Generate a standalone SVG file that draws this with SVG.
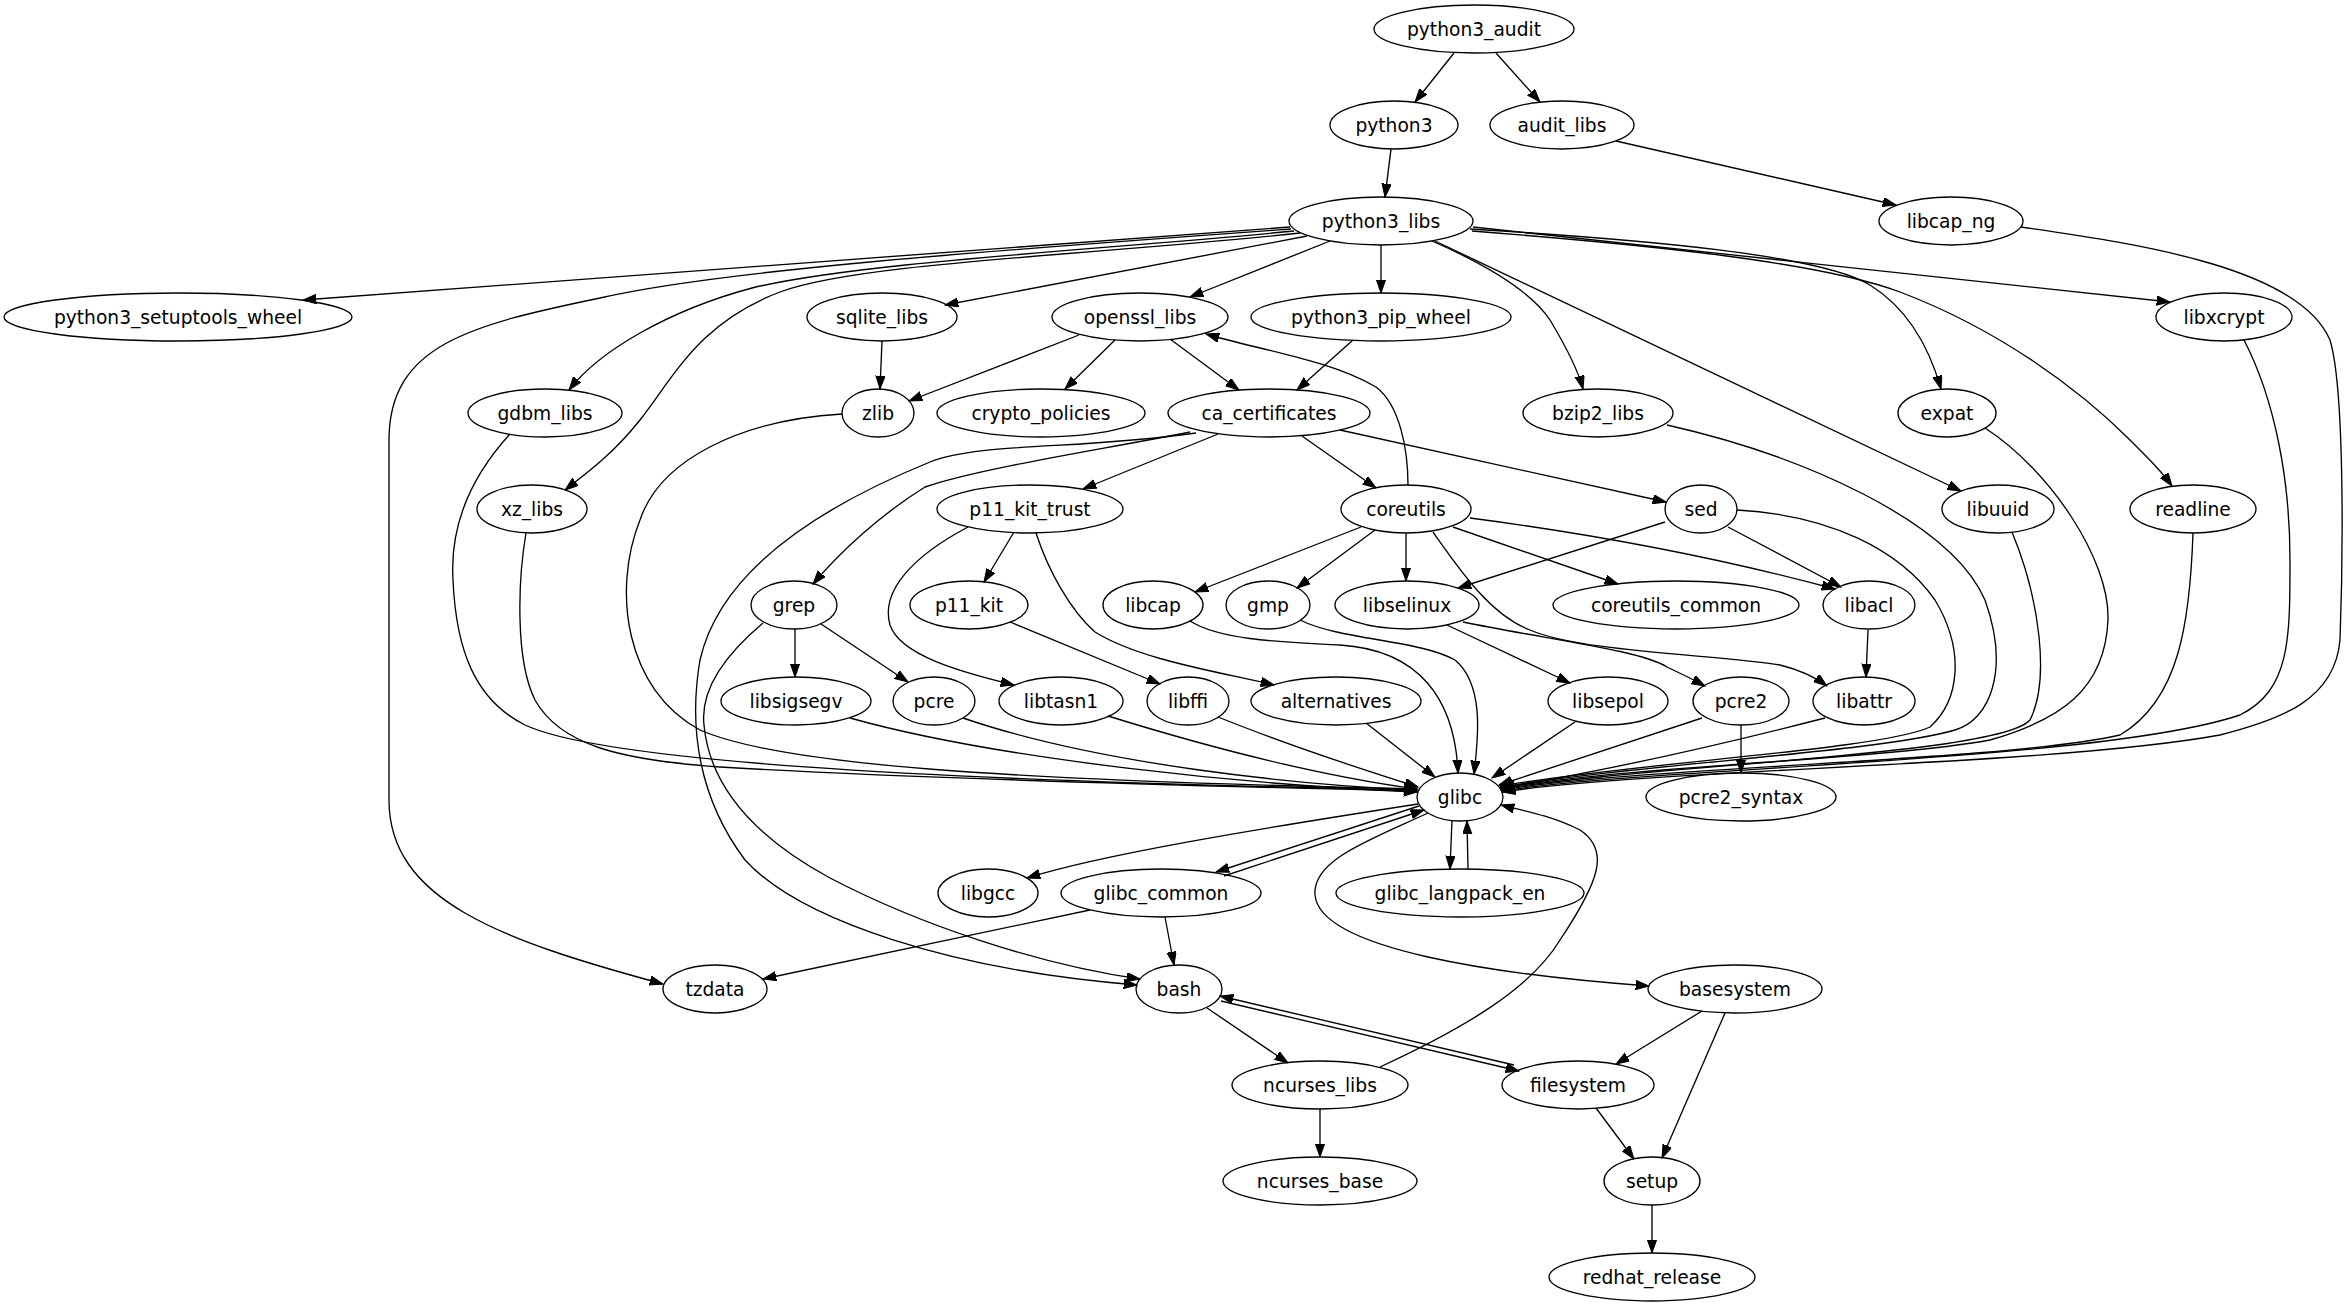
<svg xmlns="http://www.w3.org/2000/svg" width="2347" height="1307" viewBox="0 0 2347 1307">
<style>
.n ellipse{fill:none;stroke:#000;stroke-width:1.33}
.n text{font-family:"DejaVu Sans","Liberation Sans",sans-serif;font-size:18.67px;text-anchor:middle;fill:#000}
#edges path{fill:none;stroke:#000;stroke-width:1.33;marker-end:url(#arr)}
</style>
<defs>
<marker id="arr" markerUnits="userSpaceOnUse" markerWidth="14" markerHeight="10" refX="13.3" refY="4.67" orient="auto">
<path d="M0,0 L13.3,4.67 L0,9.33 z" fill="#000" stroke="#000" stroke-width="1"/>
</marker>
</defs>
<rect width="2347" height="1307" fill="#fff"/>
<g id="edges">
<path d="M1454,53 L1415,102"/>
<path d="M1496,53 L1540,102"/>
<path d="M1391,149 L1385,197"/>
<path d="M1616,141 L1896,205"/>
<path d="M2021,227 C2150,245 2300,270 2330,340 C2345,390 2343,560 2340,640 C2335,700 2280,720 2220,735 C2050,766 1650,769 1502,792"/>
<path d="M1290,227 L303,300"/>
<path d="M1291,229 C1000,250 720,270 600,298 C470,325 389,345 389,440 L389,800 C389,900 500,940 663,984"/>
<path d="M1294,231 C1100,250 860,262 752,288 C670,310 600,350 569,390"/>
<path d="M1300,233 C1100,255 860,262 780,292 C700,322 675,375 640,420 C612,455 588,472 565,490"/>
<path d="M1307,236 L945,305"/>
<path d="M1330,241 L1190,297"/>
<path d="M1381,245 L1381,293"/>
<path d="M1432,241 C1480,262 1530,290 1550,320 C1565,345 1578,370 1583,389"/>
<path d="M1435,241 L1961,491"/>
<path d="M1470,229 C1650,240 1820,255 1870,285 C1910,310 1930,350 1941,389"/>
<path d="M1472,231 C1650,245 1820,262 1900,292 C2000,330 2080,390 2130,440 C2150,460 2162,472 2172,486"/>
<path d="M1473,227 L2170,302"/>
<path d="M882,341 L880,389"/>
<path d="M1079,335 L909,401"/>
<path d="M1115,340 L1065,389"/>
<path d="M1170,339 L1239,390"/>
<path d="M1353,340 L1297,390"/>
<path d="M1408,485 C1408,450 1400,405 1376,387 C1330,360 1260,350 1206,334"/>
<path d="M510,434 C468,480 450,530 453,580 C456,650 475,700 525,725 C600,760 900,780 1417,790"/>
<path d="M526,533 C518,580 515,660 535,700 C560,745 620,760 720,767 C900,778 1200,786 1417,791"/>
<path d="M842,414 C740,420 660,460 640,520 C612,590 625,690 700,730 C780,765 1000,780 1417,789"/>
<path d="M1190,432 C1100,450 980,468 925,487 C880,515 840,552 813,584"/>
<path d="M1218,434 L1083,489"/>
<path d="M1302,436 L1376,488"/>
<path d="M1340,430 L1666,502"/>
<path d="M1196,433 C1080,450 980,442 930,462 C800,515 718,580 700,660 C688,730 700,800 745,860 C800,920 950,970 1137,985"/>
<path d="M763,623 C725,655 700,690 704,725 C710,790 760,840 830,878 C920,925 1040,965 1140,979"/>
<path d="M795,629 L795,677"/>
<path d="M821,624 L908,682"/>
<path d="M1014,532 L984,582"/>
<path d="M968,527 C915,555 880,590 890,625 C900,655 960,672 1014,685"/>
<path d="M1036,533 C1048,570 1070,610 1095,632 C1140,660 1220,672 1274,685"/>
<path d="M1010,622 L1160,684"/>
<path d="M1361,527 L1195,592"/>
<path d="M1375,530 L1297,588"/>
<path d="M1406,533 L1406,581"/>
<path d="M1453,527 L1618,584"/>
<path d="M1470,518 C1600,535 1720,558 1835,589"/>
<path d="M1433,532 C1460,570 1490,615 1530,630 C1580,652 1720,655 1780,665 C1800,670 1815,677 1827,686"/>
<path d="M1665,522 L1458,588"/>
<path d="M1728,527 L1841,587"/>
<path d="M1737,510 C1830,515 1900,550 1935,600 C1965,650 1960,700 1930,727 C1880,750 1640,762 1500,786"/>
<path d="M1447,625 L1570,683"/>
<path d="M1463,622 C1550,640 1640,650 1667,667 C1680,673 1692,679 1705,686"/>
<path d="M1868,630 L1866,677"/>
<path d="M1741,725 L1741,773"/>
<path d="M1702,718 L1499,785"/>
<path d="M1575,722 L1492,778"/>
<path d="M1825,718 C1700,750 1600,772 1500,788"/>
<path d="M1366,723 L1435,777"/>
<path d="M1218,717 C1300,750 1380,775 1418,787"/>
<path d="M1108,716 C1250,760 1350,780 1417,789"/>
<path d="M963,718 C1100,765 1300,785 1417,790"/>
<path d="M850,718 C1000,760 1250,785 1417,792"/>
<path d="M1190,621 C1220,640 1280,642 1340,645 C1420,650 1455,700 1458,773"/>
<path d="M1300,620 C1340,640 1420,640 1455,660 C1485,685 1478,740 1474,774"/>
<path d="M1667,425 C1800,455 1950,520 1985,600 C2010,670 1990,720 1955,730 C1880,752 1640,764 1501,787"/>
<path d="M1985,428 C2050,470 2110,560 2108,620 C2105,690 2060,720 1990,740 C1880,760 1640,765 1501,788"/>
<path d="M2012,532 C2040,600 2050,680 2030,720 C2000,755 1650,765 1501,789"/>
<path d="M2193,533 C2190,620 2180,700 2120,735 C2000,762 1650,766 1501,790"/>
<path d="M2244,340 C2275,400 2290,480 2290,560 C2290,640 2290,690 2240,715 C2100,762 1650,767 1502,791"/>
<path d="M1418,804 C1250,830 1100,855 1027,878"/>
<path d="M1419,806 L1216,872"/>
<path d="M1224,876 L1424,810"/>
<path d="M1452,820 L1450,869"/>
<path d="M1468,869 L1467,821"/>
<path d="M1428,813 C1370,840 1312,860 1315,895 C1320,950 1500,975 1649,986"/>
<path d="M1380,1067 C1460,1030 1530,990 1560,940 C1600,880 1610,850 1580,830 C1550,815 1520,810 1501,805"/>
<path d="M1090,910 L763,979"/>
<path d="M1165,917 L1174,965"/>
<path d="M1207,1008 L1288,1063"/>
<path d="M1221,1001 L1519,1071"/>
<path d="M1514,1065 L1220,996"/>
<path d="M1702,1011 L1616,1064"/>
<path d="M1725,1013 L1662,1158"/>
<path d="M1596,1108 L1634,1159"/>
<path d="M1320,1109 L1320,1157"/>
<path d="M1652,1205 L1652,1253"/>
</g>
<g id="python3_audit" class="n"><ellipse cx="1474" cy="29" rx="100" ry="24"/><text x="1474" y="35.5">python3_audit</text></g>
<g id="python3" class="n"><ellipse cx="1394" cy="125" rx="64" ry="24"/><text x="1394" y="131.5">python3</text></g>
<g id="audit_libs" class="n"><ellipse cx="1562" cy="125" rx="72" ry="24"/><text x="1562" y="131.5">audit_libs</text></g>
<g id="python3_libs" class="n"><ellipse cx="1381" cy="221" rx="92" ry="24"/><text x="1381" y="227.5">python3_libs</text></g>
<g id="libcap_ng" class="n"><ellipse cx="1951" cy="221" rx="72" ry="24"/><text x="1951" y="227.5">libcap_ng</text></g>
<g id="python3_setuptools_wheel" class="n"><ellipse cx="178" cy="317" rx="174" ry="24"/><text x="178" y="323.5">python3_setuptools_wheel</text></g>
<g id="sqlite_libs" class="n"><ellipse cx="882" cy="317" rx="75" ry="24"/><text x="882" y="323.5">sqlite_libs</text></g>
<g id="openssl_libs" class="n"><ellipse cx="1140" cy="317" rx="88" ry="24"/><text x="1140" y="323.5">openssl_libs</text></g>
<g id="python3_pip_wheel" class="n"><ellipse cx="1381" cy="317" rx="130" ry="24"/><text x="1381" y="323.5">python3_pip_wheel</text></g>
<g id="libxcrypt" class="n"><ellipse cx="2224" cy="317" rx="68" ry="24"/><text x="2224" y="323.5">libxcrypt</text></g>
<g id="gdbm_libs" class="n"><ellipse cx="545" cy="413" rx="77" ry="24"/><text x="545" y="419.5">gdbm_libs</text></g>
<g id="zlib" class="n"><ellipse cx="878" cy="413" rx="36" ry="24"/><text x="878" y="419.5">zlib</text></g>
<g id="crypto_policies" class="n"><ellipse cx="1041" cy="413" rx="104" ry="24"/><text x="1041" y="419.5">crypto_policies</text></g>
<g id="ca_certificates" class="n"><ellipse cx="1269" cy="413" rx="101" ry="24"/><text x="1269" y="419.5">ca_certificates</text></g>
<g id="bzip2_libs" class="n"><ellipse cx="1598" cy="413" rx="75" ry="24"/><text x="1598" y="419.5">bzip2_libs</text></g>
<g id="expat" class="n"><ellipse cx="1947" cy="413" rx="49" ry="24"/><text x="1947" y="419.5">expat</text></g>
<g id="xz_libs" class="n"><ellipse cx="532" cy="509" rx="55" ry="24"/><text x="532" y="515.5">xz_libs</text></g>
<g id="p11_kit_trust" class="n"><ellipse cx="1030" cy="509" rx="93" ry="24"/><text x="1030" y="515.5">p11_kit_trust</text></g>
<g id="coreutils" class="n"><ellipse cx="1406" cy="509" rx="65" ry="24"/><text x="1406" y="515.5">coreutils</text></g>
<g id="sed" class="n"><ellipse cx="1701" cy="509" rx="36" ry="24"/><text x="1701" y="515.5">sed</text></g>
<g id="libuuid" class="n"><ellipse cx="1998" cy="509" rx="56" ry="24"/><text x="1998" y="515.5">libuuid</text></g>
<g id="readline" class="n"><ellipse cx="2193" cy="509" rx="63" ry="24"/><text x="2193" y="515.5">readline</text></g>
<g id="grep" class="n"><ellipse cx="794" cy="605" rx="43" ry="24"/><text x="794" y="611.5">grep</text></g>
<g id="p11_kit" class="n"><ellipse cx="969" cy="605" rx="59" ry="24"/><text x="969" y="611.5">p11_kit</text></g>
<g id="libcap" class="n"><ellipse cx="1153" cy="605" rx="50" ry="24"/><text x="1153" y="611.5">libcap</text></g>
<g id="gmp" class="n"><ellipse cx="1268" cy="605" rx="42" ry="24"/><text x="1268" y="611.5">gmp</text></g>
<g id="libselinux" class="n"><ellipse cx="1407" cy="605" rx="72" ry="24"/><text x="1407" y="611.5">libselinux</text></g>
<g id="coreutils_common" class="n"><ellipse cx="1676" cy="605" rx="123" ry="24"/><text x="1676" y="611.5">coreutils_common</text></g>
<g id="libacl" class="n"><ellipse cx="1869" cy="605" rx="46" ry="24"/><text x="1869" y="611.5">libacl</text></g>
<g id="libsigsegv" class="n"><ellipse cx="796" cy="701" rx="75" ry="24"/><text x="796" y="707.5">libsigsegv</text></g>
<g id="pcre" class="n"><ellipse cx="934" cy="701" rx="41" ry="24"/><text x="934" y="707.5">pcre</text></g>
<g id="libtasn1" class="n"><ellipse cx="1061" cy="701" rx="62" ry="24"/><text x="1061" y="707.5">libtasn1</text></g>
<g id="libffi" class="n"><ellipse cx="1188" cy="701" rx="41" ry="24"/><text x="1188" y="707.5">libffi</text></g>
<g id="alternatives" class="n"><ellipse cx="1336" cy="701" rx="85" ry="24"/><text x="1336" y="707.5">alternatives</text></g>
<g id="libsepol" class="n"><ellipse cx="1608" cy="701" rx="60" ry="24"/><text x="1608" y="707.5">libsepol</text></g>
<g id="pcre2" class="n"><ellipse cx="1741" cy="701" rx="48" ry="24"/><text x="1741" y="707.5">pcre2</text></g>
<g id="libattr" class="n"><ellipse cx="1864" cy="701" rx="51" ry="24"/><text x="1864" y="707.5">libattr</text></g>
<g id="glibc" class="n"><ellipse cx="1460" cy="797" rx="43" ry="24"/><text x="1460" y="803.5">glibc</text></g>
<g id="pcre2_syntax" class="n"><ellipse cx="1741" cy="797" rx="95" ry="24"/><text x="1741" y="803.5">pcre2_syntax</text></g>
<g id="libgcc" class="n"><ellipse cx="988" cy="893" rx="50" ry="24"/><text x="988" y="899.5">libgcc</text></g>
<g id="glibc_common" class="n"><ellipse cx="1161" cy="893" rx="100" ry="24"/><text x="1161" y="899.5">glibc_common</text></g>
<g id="glibc_langpack_en" class="n"><ellipse cx="1460" cy="893" rx="124" ry="24"/><text x="1460" y="899.5">glibc_langpack_en</text></g>
<g id="tzdata" class="n"><ellipse cx="715" cy="989" rx="52" ry="24"/><text x="715" y="995.5">tzdata</text></g>
<g id="bash" class="n"><ellipse cx="1179" cy="989" rx="43" ry="24"/><text x="1179" y="995.5">bash</text></g>
<g id="basesystem" class="n"><ellipse cx="1735" cy="989" rx="87" ry="24"/><text x="1735" y="995.5">basesystem</text></g>
<g id="ncurses_libs" class="n"><ellipse cx="1320" cy="1085" rx="88" ry="24"/><text x="1320" y="1091.5">ncurses_libs</text></g>
<g id="filesystem" class="n"><ellipse cx="1578" cy="1085" rx="76" ry="24"/><text x="1578" y="1091.5">filesystem</text></g>
<g id="ncurses_base" class="n"><ellipse cx="1320" cy="1181" rx="97" ry="24"/><text x="1320" y="1187.5">ncurses_base</text></g>
<g id="setup" class="n"><ellipse cx="1652" cy="1181" rx="48" ry="24"/><text x="1652" y="1187.5">setup</text></g>
<g id="redhat_release" class="n"><ellipse cx="1652" cy="1277" rx="103" ry="24"/><text x="1652" y="1283.5">redhat_release</text></g>
</svg>
